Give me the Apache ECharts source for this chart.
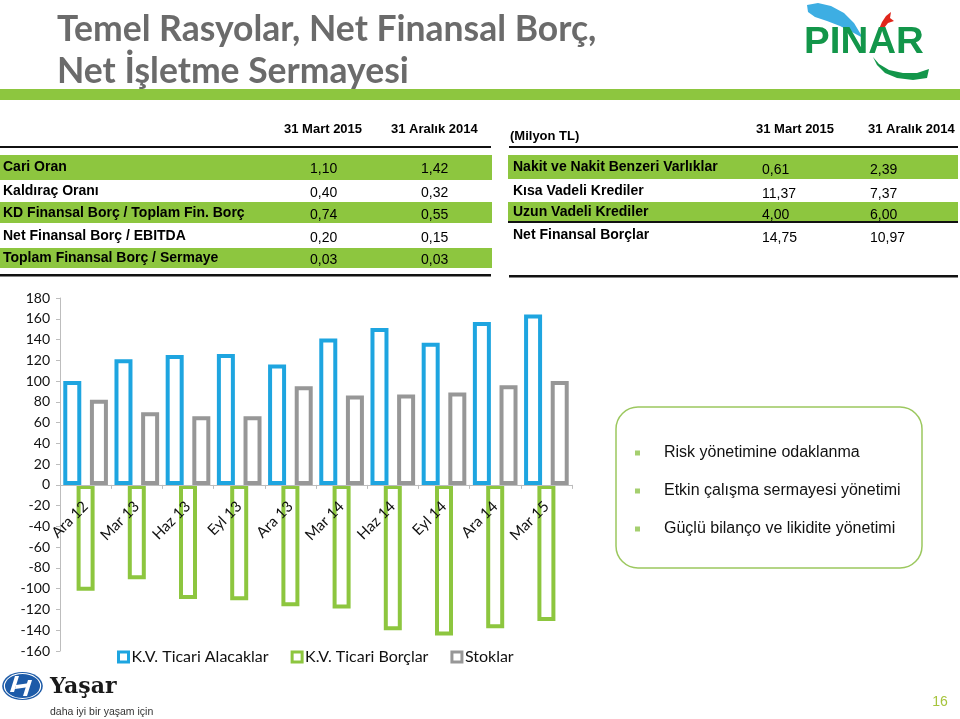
<!DOCTYPE html>
<html><head><meta charset="utf-8">
<script src="https://cdn.jsdelivr.net/npm/echarts@6/dist/echarts.min.js"></script>
<style>html,body{margin:0;padding:0;background:#fff}#c{width:960px;height:719px}</style>
</head><body><div id="c"></div>
<script>
const titleLines = ['Temel Rasyolar, Net Finansal Borç,', 'Net İşletme Sermayesi'];
const categories = ['Ara 12','Mar 13','Haz 13','Eyl 13','Ara 13','Mar 14','Haz 14','Eyl 14','Ara 14','Mar 15'];
const receivables = [100,121,125,126,116,141,151,137,157,164];
const payables = [-102,-91,-110,-111,-117,-119,-140,-145,-138,-131];
const inventories = [82,70,66,66,95,86,87,89,96,100];
const seriesNames = ['K.V. Ticari Alacaklar','K.V. Ticari Borçlar','Stoklar'];
const periodHeaders = ['31 Mart 2015','31 Aralık 2014'];
const ratioLabels = ['Cari Oran','Kaldıraç Oranı','KD Finansal Borç / Toplam Fin. Borç','Net Finansal Borç / EBITDA','Toplam Finansal Borç / Sermaye'];
const ratioMar15 = ['1,10','0,40','0,74','0,20','0,03'];
const ratioDec14 = ['1,42','0,32','0,55','0,15','0,03'];
const debtUnit = '(Milyon TL)';
const debtLabels = ['Nakit ve Nakit Benzeri Varlıklar','Kısa Vadeli Krediler','Uzun Vadeli Krediler','Net Finansal Borçlar'];
const debtMar15 = ['0,61','11,37','4,00','14,75'];
const debtDec14 = ['2,39','7,37','6,00','10,97'];
const bullets = ['Risk yönetimine odaklanma','Etkin çalışma sermayesi yönetimi','Güçlü bilanço ve likidite yönetimi'];

const GREEN = '#8dc63f', BLUE = '#1ea5e0', GRAY = '#979797', LGREEN = '#8dc63f';
const chart = echarts.init(document.getElementById('c'), null, {renderer: 'canvas'});

function txt(x, y, text, font, fill, align, va) {
  return {type: 'text', x: x, y: y, silent: true,
    style: {text: text, font: font, fill: fill || '#000', textAlign: align || 'left', textVerticalAlign: va || 'middle', align: align || 'left', verticalAlign: va || 'middle'}};
}
function rect(x, y, w, h, fill) {
  return {type: 'rect', silent: true, shape: {x: x, y: y, width: w, height: h}, style: {fill: fill}};
}
const g = [];
// title
g.push(txt(57, 30, titleLines[0], 'bold 35.5px Lato', '#6b6b6b'));
g.push(txt(57, 72, titleLines[1], 'bold 35.5px Lato', '#6b6b6b'));
g.push(rect(0, 89, 960, 11, GREEN));
// PINAR logo
g.push({type: 'polygon', silent: true, shape: {points: [[807,5],[818,3],[831,6],[844,13],[854,23],[863,38],[852,32],[840,26],[827,21],[815,17],[808,12]]}, style: {fill: '#3daee3'}});
g.push({type: 'polygon', silent: true, shape: {points: [[879,29],[882,22],[886,16],[891,12],[890,18],[894,21],[888,23],[884,28]]}, style: {fill: '#e0261b'}});
g.push({type: 'text', x: 804, y: 43, scaleX: 1.1, scaleY: 1.08, silent: true, style: {text: 'PINAR', font: 'bold 35px "Liberation Sans"', fill: '#13964a', textAlign: 'left', textVerticalAlign: 'middle', align: 'left', verticalAlign: 'middle'}});
g.push({type: 'polygon', silent: true, shape: {points: [[873,57],[879,64],[889,70],[903,73],[917,73],[929,69],[927,78],[913,80],[897,78],[885,73],[877,65]]}, style: {fill: '#13964a'}});
// left table
const ly = [167, 191, 213, 236, 258];
const leftBands = [[155, 25], [202, 21], [248, 20]];
leftBands.forEach(b => g.push(rect(0, b[0], 492, b[1], GREEN)));
g.push(txt(284, 129, periodHeaders[0], 'bold 13px "Liberation Sans"', '#000'));
g.push(txt(391, 129, periodHeaders[1], 'bold 13px "Liberation Sans"', '#000'));
g.push(rect(0, 146, 491, 2, '#111'));
g.push(rect(0, 274, 491, 2.5, '#111'));
ratioLabels.forEach((l, i) => {
  g.push(txt(3, ly[i], l, 'bold 14px "Liberation Sans"', '#000'));
  g.push(txt(310, ly[i] + 2, ratioMar15[i], '14px "Liberation Sans"', '#000'));
  g.push(txt(421, ly[i] + 2, ratioDec14[i], '14px "Liberation Sans"', '#000'));
});
// right table
const ry = [167, 191, 212, 235];
[[155, 24], [202, 20]].forEach(b => g.push(rect(508, b[0], 450, b[1], GREEN)));
g.push(txt(510, 136, debtUnit, 'bold 13px "Liberation Sans"', '#000'));
g.push(txt(756, 129, periodHeaders[0], 'bold 13px "Liberation Sans"', '#000'));
g.push(txt(868, 129, periodHeaders[1], 'bold 13px "Liberation Sans"', '#000'));
g.push(rect(509, 146, 449, 2, '#111'));
g.push(rect(508, 221, 450, 2, '#111'));
g.push(rect(509, 275, 449, 2.5, '#111'));
debtLabels.forEach((l, i) => {
  g.push(txt(513, ry[i], l, 'bold 14px "Liberation Sans"', '#000'));
  g.push(txt(762, ry[i] + 3, debtMar15[i], '14px "Liberation Sans"', '#000'));
  g.push(txt(870, ry[i] + 3, debtDec14[i], '14px "Liberation Sans"', '#000'));
});
// bullet box
g.push({type: 'rect', silent: true, shape: {x: 616, y: 407, width: 306, height: 161, r: 22}, style: {fill: 'none', stroke: '#9cc85f', lineWidth: 1.5}});
const by = [453, 491, 529];
bullets.forEach((b, i) => {
  g.push(rect(635, by[i] - 2.5, 5, 5, '#a5cf6f'));
  g.push(txt(664, by[i], b, '16px "Liberation Sans"', '#111'));
});
// Yasar logo
g.push({type: 'circle', x: 22.5, y: 686, scaleX: 1.45, silent: true, shape: {cx: 0, cy: 0, r: 14}, style: {fill: '#1d5ba8'}});
g.push({type: 'circle', x: 22.5, y: 686, scaleX: 1.45, silent: true, shape: {cx: 0, cy: 0, r: 12.5}, style: {fill: 'none', stroke: '#fff', lineWidth: 0.8}});
g.push({type: 'polygon', silent: true, shape: {points: [[15,676],[19,676],[14,692],[10,692]]}, style: {fill: '#fff'}});
g.push({type: 'polygon', silent: true, shape: {points: [[28,680],[32,680],[27,696],[23,696]]}, style: {fill: '#fff'}});
g.push({type: 'polygon', silent: true, shape: {points: [[16,685],[30,683],[29,687],[15,689]]}, style: {fill: '#fff'}});
g.push(txt(50, 687, 'Yaşar', 'bold 22px "DejaVu Serif"', '#1a1a1a'));
g.push(txt(50, 712, 'daha iyi bir yaşam için', '10.5px "Liberation Sans"', '#333'));
g.push(txt(940, 702, '16', '14px "Liberation Sans"', '#a6c43c', 'center'));

function barSeries(name, data, color) {
  return {name: name, type: 'bar', data: data, barWidth: 18, barGap: '-26%', z: 2,
    itemStyle: {color: '#fff', borderColor: color, borderWidth: 4}};
}

chart.setOption({
  animation: false,
  backgroundColor: '#fff',
  graphic: {elements: g},
  grid: {left: 60, right: 388, top: 298, bottom: 68, containLabel: false},
  legend: {
    left: 112, top: 644, itemWidth: 10, itemHeight: 10, itemGap: 22, icon: 'rect',
    textStyle: {fontFamily: 'Lato', fontSize: 16, color: '#111', padding: [0, 0, 0, -2]},
    data: seriesNames.map((n, i) => ({name: n, itemStyle: {color: '#fff', borderColor: [BLUE, LGREEN, GRAY][i], borderWidth: 3}}))
  },
  xAxis: {
    type: 'category', data: categories, z: 5,
    axisLine: {onZero: true, lineStyle: {color: '#bdbdbd', width: 1}},
    axisTick: {show: true, length: 4, lineStyle: {color: '#bdbdbd'}},
    axisLabel: {interval: 0, rotate: 45, margin: -147, fontFamily: 'Lato', fontSize: 15, color: '#111'}
  },
  yAxis: {
    type: 'value', min: -160, max: 180, interval: 20,
    axisLine: {show: true, lineStyle: {color: '#bdbdbd'}},
    axisTick: {show: true, length: 4, lineStyle: {color: '#bdbdbd'}},
    splitLine: {show: false},
    axisLabel: {margin: 10, fontFamily: 'Lato', fontSize: 14, color: '#111'}
  },
  series: [
    barSeries(seriesNames[0], receivables, BLUE),
    barSeries(seriesNames[1], payables, LGREEN),
    barSeries(seriesNames[2], inventories, GRAY)
  ]
});
</script></body></html>
